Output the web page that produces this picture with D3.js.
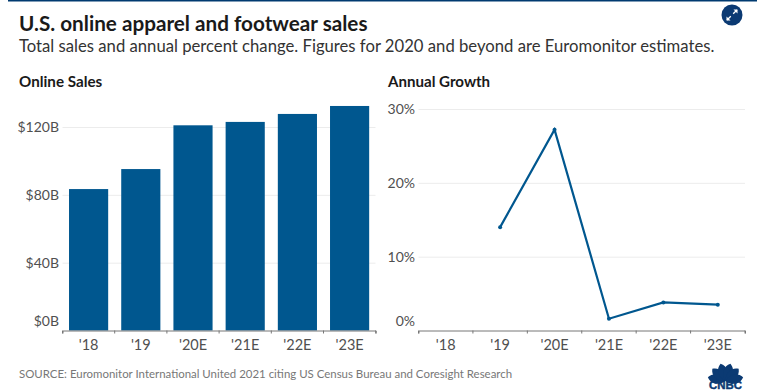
<!DOCTYPE html>
<html><head><meta charset="utf-8">
<script src="https://cdn.jsdelivr.net/npm/d3@7/dist/d3.min.js"></script>
<style>
html,body{margin:0;padding:0;background:#fff}
svg{display:block}
text{font-family:Lato,"Open Sans",sans-serif}
.domain{stroke:#777}
.grid line{stroke:#ececec}
.grid .domain{display:none}
</style></head><body>
<svg id="c" width="757" height="392"></svg>
<script>
const categories = ["'18","'19","'20E","'21E","'22E","'23E"];
const salesValues = [83.4,95.2,121,123,127.7,132.4];
const growthValues = [null,14.0,27.2,1.6,3.8,3.5];
const salesTicks = [0,40,80,120];
const growthTicks = [0,10,20,30];

const svg = d3.select("#c");
const ink = "#505050", navy = "#00578f", dark = "#0b3a73";
svg.append("rect").attr("x",8).attr("y",0).attr("width",749).attr("height",1.5).attr("fill","#003a70");

function label(x,y,t,size,weight,fill){
  return svg.append("text").attr("x",x).attr("y",y).text(t)
    .attr("font-size",size).attr("font-weight",weight).attr("fill",fill);
}
label(19,31,"U.S. online apparel and footwear sales",20.7,700,"#1a1a1a");
label(19,52,"Total sales and annual percent change. Figures for 2020 and beyond are Euromonitor estimates.",16.68,400,"#333");
label(19,87,"Online Sales",15.2,700,"#1a1a1a");
label(388,87,"Annual Growth",15.1,700,"#1a1a1a");
label(19,378,"SOURCE: Euromonitor International United 2021 citing US Census Bureau and Coresight Research",11.45,400,"#777");

const base = 330.5;
// left panel
const x1 = d3.scaleBand().domain(categories).range([62.5,375.7]).paddingInner(0.25).paddingOuter(0.125);
const y1 = d3.scaleLinear().domain([0,120]).range([base,127]);
svg.append("g").attr("class","grid").attr("transform","translate(62.5,0)")
  .call(d3.axisLeft(y1).tickValues(salesTicks.slice(1)).tickSize(-313).tickFormat(""));
svg.selectAll(".bar").data(salesValues).join("rect").attr("class","bar")
  .attr("x",(d,i)=>x1(categories[i])).attr("width",x1.bandwidth())
  .attr("y",d=>y1(d)).attr("height",d=>base-y1(d)).attr("fill",navy);
function xaxis(scale){
  const g = svg.append("g").attr("transform",`translate(0,${base})`)
    .call(d3.axisBottom(scale).tickSize(3).tickSizeOuter(3));
  g.selectAll(".tick").remove();
  const r = scale.range(), step = scale.step();
  const edges = d3.range(categories.length+1).map(i=>r[0]+i*step);
  g.selectAll(".t").data(edges).join("line").attr("class","t").attr("x1",d=>d).attr("x2",d=>d).attr("y1",0).attr("y2",3).attr("stroke","#777");
  g.selectAll(".l").data(categories).join("text").attr("class","l").attr("x",d=>scale(d)+scale.bandwidth()/2).attr("y",19.5)
    .attr("text-anchor","middle").attr("font-size",14.5).attr("fill",ink).text(d=>d);
}
xaxis(x1);
function ylabels(x,scale,ticks,fmt){
  svg.selectAll(null).data(ticks).join("text").attr("x",x)
    .attr("y",d=>(d===0?scale(0)-10:scale(d))+5.2).attr("text-anchor","end")
    .attr("font-size",14).attr("fill",ink).text(fmt);
}
ylabels(59,y1,salesTicks,d=>`$${d}B`);

// right panel
const x2 = d3.scaleBand().domain(categories).range([418.5,745]).paddingInner(0.25).paddingOuter(0.125);
const y2 = d3.scaleLinear().domain([0,30]).range([base,109]);
svg.append("g").attr("class","grid").attr("transform","translate(418.5,0)")
  .call(d3.axisLeft(y2).tickValues(growthTicks.slice(1)).tickSize(-326.5).tickFormat(""));
xaxis(x2);
ylabels(415,y2,growthTicks,d=>`${d}%`);
const cx = i=>x2(categories[i])+x2.bandwidth()/2;
const line = d3.line().defined(d=>d!==null).x((d,i)=>cx(i)).y(d=>y2(d));
svg.append("path").datum(growthValues).attr("d",line).attr("fill","none").attr("stroke",navy).attr("stroke-width",2.2);
svg.selectAll(".pt").data(growthValues).join("circle").attr("class","pt")
  .attr("display",d=>d===null?"none":null)
  .attr("cx",(d,i)=>cx(i)).attr("cy",d=>d===null?0:y2(d)).attr("r",2).attr("fill",navy);

// expand icon
const ic = svg.append("g").attr("transform","translate(732,15)");
ic.append("circle").attr("r",10.5).attr("fill",dark);
ic.append("path").attr("d","M-5,5L-1.2,1.2M1.2,-1.2L5,-5").attr("stroke","#fff").attr("stroke-width",1.3);
ic.append("path").attr("d","M1.5,-5.5H5.5V-1.5ZM-5.5,1.5V5.5H-1.5Z").attr("fill","#fff");

// CNBC logo
const logo = svg.append("g").attr("transform","translate(725.5,381)");
const feathers = [-78,-47,-16,16,47,78];
logo.selectAll("path").data(feathers).join("path")
  .attr("d","M0,0 C-6.5,-6 -6,-14 0,-18 C6,-14 6.5,-6 0,0Z")
  .attr("transform",d=>`rotate(${d})`).attr("fill",dark);
logo.append("text").attr("x",0).attr("y",7.5).attr("text-anchor","middle")
  .attr("font-size",10).attr("font-weight",900).attr("stroke",dark).attr("stroke-width",0.4)
  .attr("textLength",33).attr("lengthAdjust","spacingAndGlyphs").attr("fill",dark)
  .attr("style","font-family:'Liberation Sans'").text("CNBC");
</script>
</body></html>
